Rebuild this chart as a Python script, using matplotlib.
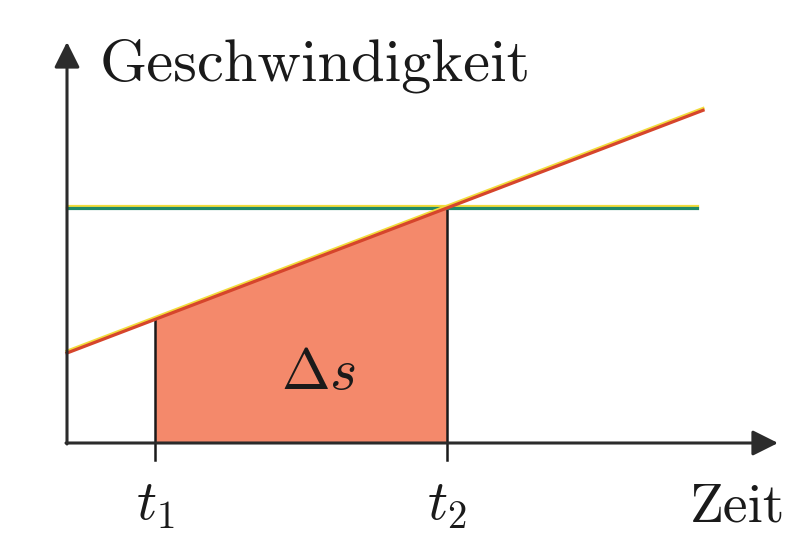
import matplotlib
matplotlib.use("Agg")
import numpy as np
import matplotlib.pyplot as plt
import matplotlib.patheffects as pe

plt.rcParams["mathtext.fontset"] = "cm"

# data (time and speed in arbitrary units)
t_line = [0.0, 6.36]          # red line: accelerating motion
v_line = [0.90, 3.327]
t_const = [0.0, 6.30]         # constant speed line
v_const = [2.35, 2.35]
t1, t2 = 0.88, 3.80
x_axis_end = 7.11
y_axis_end = 4.01

RED = "#d6452c"
FILL = "#f4896b"
GREEN = "#1f8a6a"
AXIS = "#2b2b2b"


def v_at(t):
    return np.interp(t, t_line, v_line)


fig = plt.figure(figsize=(8.08, 5.35), dpi=100)
ax = fig.add_axes([0, 0, 1, 1])
ax.set_xlim(-0.67, 7.41)
ax.set_ylim(-0.92, 4.43)
ax.axis("off")

# shaded area between t1 and t2
ts = np.array([t1, t2])
ax.fill_between(ts, 0, v_at(ts), color=FILL, lw=0, zorder=1)

# vertical markers at t1, t2
for t in (t1, t2):
    ax.plot([t, t], [-0.17, v_at(t)], color="#1a1a1a", lw=1.8, zorder=2)

glow = [pe.SimpleLineShadow(offset=(0, 1.3), shadow_color="#f2dc3c", alpha=1), pe.Normal()]
ax.plot(t_const, v_const, color=GREEN, lw=2.3, zorder=3, path_effects=glow)
ax.plot(t_line, v_line, color=RED, lw=2.3, zorder=4, path_effects=glow)

# axes with arrows
arrow = dict(arrowstyle="-|>,head_length=0.6,head_width=0.3", mutation_scale=26,
             color=AXIS, lw=2.2, shrinkA=0, shrinkB=0)
ax.annotate("", xy=(x_axis_end, 0), xytext=(-0.01, 0), arrowprops=arrow, zorder=5)
ax.annotate("", xy=(0, y_axis_end), xytext=(0, -0.01), arrowprops=arrow, zorder=5)

# labels
ax.text(0.33, 3.62, "Geschwindigkeit", family="cmr10", fontsize=43.5,
        ha="left", va="baseline", color="#1a1a1a")
ax.text(7.18, -0.79, "Zeit", family="cmr10", fontsize=40,
        ha="right", va="baseline", color="#1a1a1a")
ax.text(t1, -0.62, r"$t_1$", fontsize=40, ha="center", va="center", color="#1a1a1a")
ax.text(t2, -0.62, r"$t_2$", fontsize=40, ha="center", va="center", color="#1a1a1a")
ax.text(2.51, 0.71, r"$\Delta s$", fontsize=42, ha="center", va="center", color="#1a1a1a")

fig.savefig("out.png", dpi=100)
